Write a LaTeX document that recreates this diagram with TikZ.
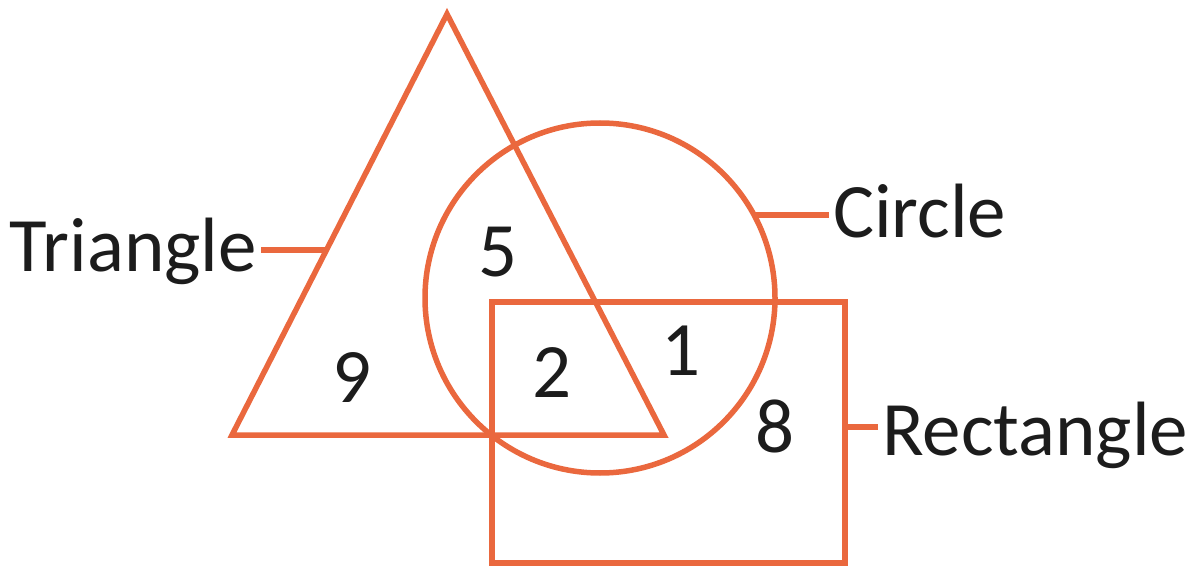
\documentclass[tikz,border=0pt]{standalone}
\usepackage{fontspec}
\setmainfont{Carlito}
\usetikzlibrary{positioning}
\definecolor{venn}{RGB}{234,104,62}
\definecolor{ink}{RGB}{28,28,28}
\tikzset{
  vshape/.style   = {draw=venn, line width=5.5pt},
  leader/.style   = {draw=venn, line width=5.5pt},
  setlabel/.style = {text=ink, inner xsep=4pt, inner ysep=0pt,
                     font=\fontsize{77}{82}\selectfont},
  count/.style    = {setlabel, anchor=base},   % region counts
}

\begin{document}
\begin{tikzpicture}[x=1pt, y=-1pt]
  \useasboundingbox (0,0) rectangle (1194,569);

  \coordinate (apex)   at (447,14);
  \coordinate (tleft)  at (232,435);
  \coordinate (tright) at (664,435);
  \coordinate (cc)     at (600,298);

  \draw[vshape] (apex) -- (tleft) -- (tright) -- cycle;
  \draw[vshape] (cc) circle[radius=175];
  \draw[vshape] (492,302) rectangle (845,563);

  \node[setlabel, anchor=base east] (tri)  at (261,272) {Triangle};
  \node[setlabel, anchor=base west] (circ) at (829,238) {Circle};
  \node[setlabel, anchor=base west] (rect) at (878,455) {Rectangle};

  \coordinate (triedge)  at (326,250);
  \coordinate (circedge) at (754,215);
  \coordinate (rectedge) at (845,427);

  \draw[leader] (tri.east |- triedge) -- (triedge);
  \draw[leader] (circedge) -- (circ.west |- circedge);
  \draw[leader] (rectedge) -- (rect.west |- rectedge);

  \node[count] (n5) at (498,277) {5};
  \node[count] (n9) at (352,402) {9};
  \node[count] (n2) at (552,397) {2};
  \node[count] (n1) at (681,375) {1};
  \node[count] (n8) at (775,452) {8};
\end{tikzpicture}
\end{document}
